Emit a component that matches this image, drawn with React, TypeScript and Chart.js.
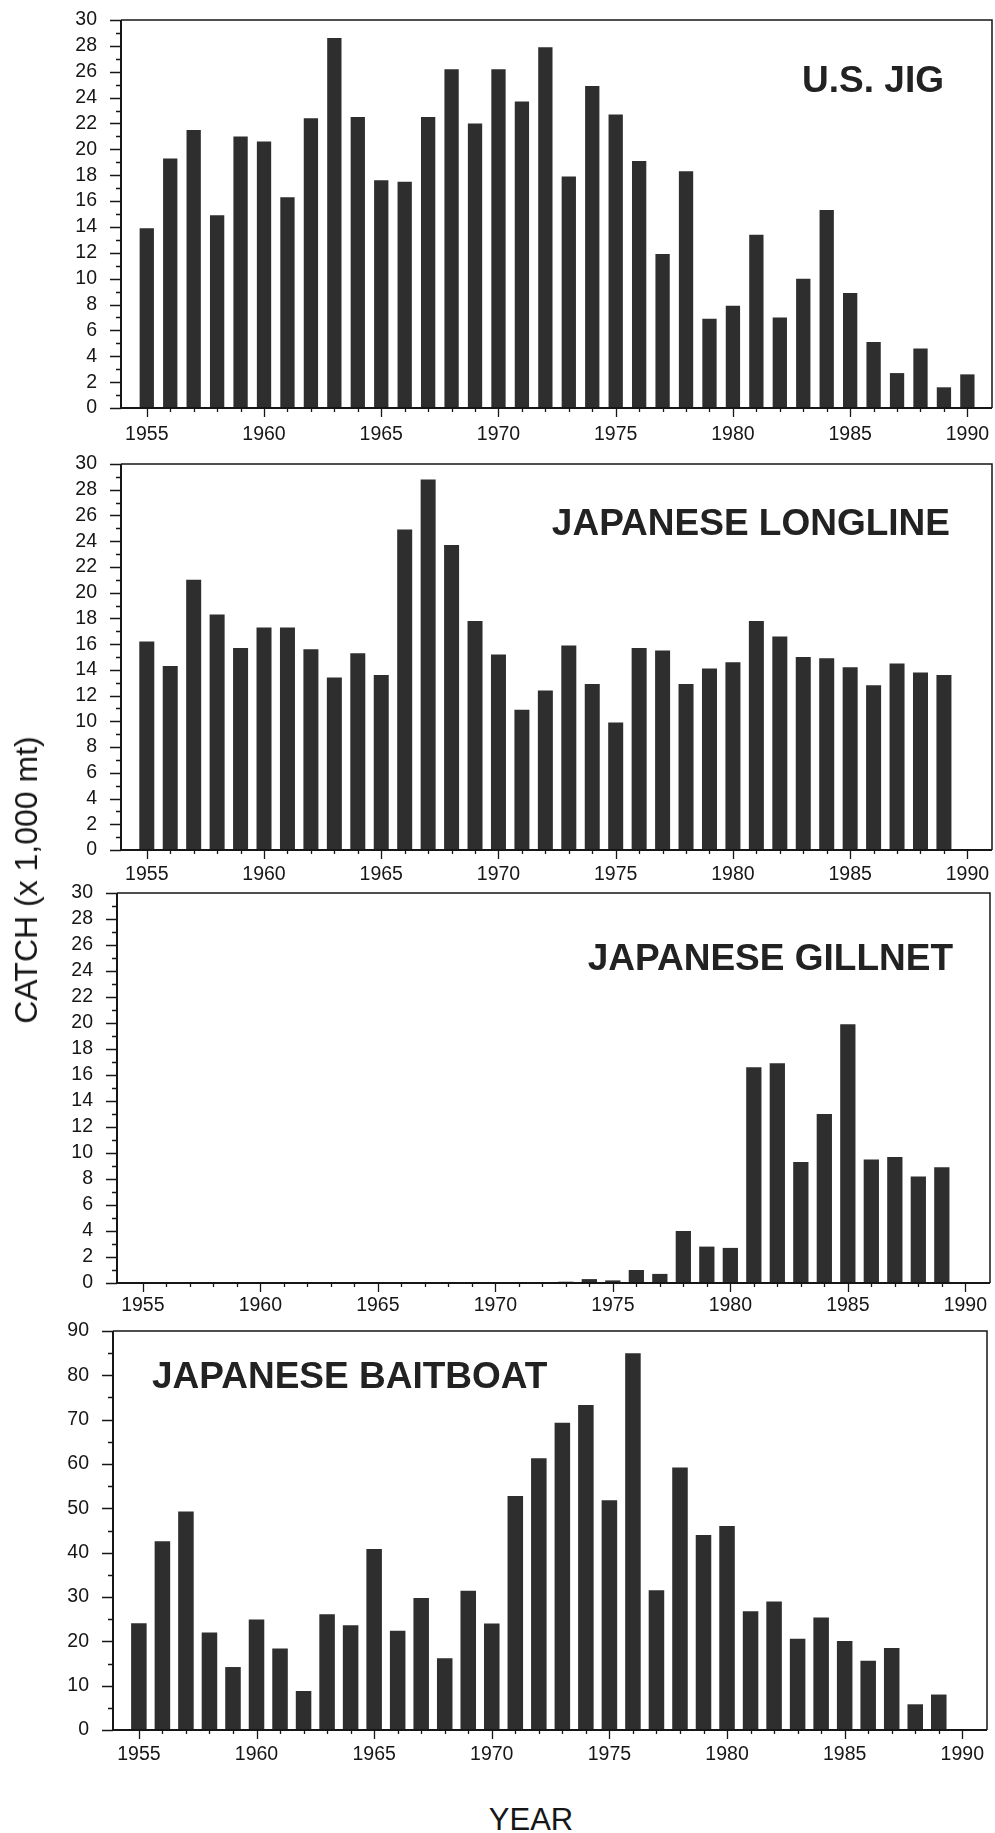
import React, { useEffect, useRef } from "react";
import { Chart, registerables } from "chart.js";

Chart.register(...registerables);

// Fishing years shown on every panel
const YEARS = [
  1955, 1956, 1957, 1958, 1959, 1960, 1961, 1962, 1963, 1964,
  1965, 1966, 1967, 1968, 1969, 1970, 1971, 1972, 1973, 1974,
  1975, 1976, 1977, 1978, 1979, 1980, 1981, 1982, 1983, 1984,
  1985, 1986, 1987, 1988, 1989, 1990,
];
const X_TICKS = [1955, 1960, 1965, 1970, 1975, 1980, 1985, 1990];
const Y_TICKS_30 = [0, 2, 4, 6, 8, 10, 12, 14, 16, 18, 20, 22, 24, 26, 28, 30];
const Y_TICKS_90 = [0, 10, 20, 30, 40, 50, 60, 70, 80, 90];

// Catch in thousands of metric tons, one value per year starting 1955
const US_JIG = [
  13.9, 19.3, 21.5, 14.9, 21.0, 20.6, 16.3, 22.4, 28.6, 22.5,
  17.6, 17.5, 22.5, 26.2, 22.0, 26.2, 23.7, 27.9, 17.9, 24.9,
  22.7, 19.1, 11.9, 18.3, 6.9, 7.9, 13.4, 7.0, 10.0, 15.3,
  8.9, 5.1, 2.7, 4.6, 1.6, 2.6,
];
const JP_LONGLINE = [
  16.2, 14.3, 21.0, 18.3, 15.7, 17.3, 17.3, 15.6, 13.4, 15.3,
  13.6, 24.9, 28.8, 23.7, 17.8, 15.2, 10.9, 12.4, 15.9, 12.9,
  9.9, 15.7, 15.5, 12.9, 14.1, 14.6, 17.8, 16.6, 15.0, 14.9,
  14.2, 12.8, 14.5, 13.8, 13.6,
];
const JP_GILLNET = [
  0, 0, 0, 0, 0, 0, 0, 0, 0, 0,
  0, 0, 0, 0, 0, 0, 0, 0, 0.1, 0.3,
  0.2, 1.0, 0.7, 4.0, 2.8, 2.7, 16.6, 16.9, 9.3, 13.0,
  19.9, 9.5, 9.7, 8.2, 8.9,
];
const JP_BAITBOAT = [
  24.1, 42.6, 49.3, 22.0, 14.2, 24.9, 18.4, 8.8, 26.1, 23.6,
  40.8, 22.4, 29.8, 16.2, 31.4, 24.0, 52.8, 61.3, 69.3, 73.3,
  51.8, 85.0, 31.5, 59.2, 44.0, 46.0, 26.8, 29.0, 20.6, 25.4,
  20.1, 15.6, 18.5, 5.8, 8.0,
];

const FONT = '"Liberation Sans", Arial, Helvetica, sans-serif';
const INK = "#161616";
const BAR = "#2e2e2e";
const PAGE_W = 995;
const PAGE_H = 1833;
const PAD_TOP = 20;
const X_AXIS_H = 46;

type Panel = {
  name: string;
  values: number[];
  yMax: number;
  yTicks: number[];
  minorStep: number;
  left: number;
  right: number;
  top: number;
  bottom: number;
  xPad: number;
  barFrac: number;
  align: "left" | "right";
  dx: number;
  dy: number;
};

const PANELS: Panel[] = [
  { name: "U.S. JIG", values: US_JIG, yMax: 30, yTicks: Y_TICKS_30, minorStep: 1,
    left: 121, right: 992, top: 20, bottom: 408, xPad: 15, barFrac: 0.61,
    align: "right", dx: -48, dy: 72 },
  { name: "JAPANESE LONGLINE", values: JP_LONGLINE, yMax: 30, yTicks: Y_TICKS_30, minorStep: 1,
    left: 121, right: 992, top: 464, bottom: 850, xPad: 13, barFrac: 0.64,
    align: "right", dx: -42, dy: 71 },
  { name: "JAPANESE GILLNET", values: JP_GILLNET, yMax: 30, yTicks: Y_TICKS_30, minorStep: 1,
    left: 117, right: 990, top: 893, bottom: 1283, xPad: 11, barFrac: 0.65,
    align: "right", dx: -37, dy: 77 },
  { name: "JAPANESE BAITBOAT", values: JP_BAITBOAT, yMax: 90, yTicks: Y_TICKS_90, minorStep: 5,
    left: 113, right: 987, top: 1331, bottom: 1730, xPad: 13, barFrac: 0.66,
    align: "left", dx: 39, dy: 57 },
];

// Tick marks, plot frame and the fishery name inside each panel
function makeDecor(p: Panel) {
  return {
    id: "panelDecor",
    afterDatasetsDraw(chart: any) {
      const { ctx, chartArea: a, scales } = chart;
      const xs = scales.x;
      const ys = scales.y;
      ctx.save();
      ctx.strokeStyle = INK;
      ctx.lineWidth = 1.3;
      ctx.beginPath();
      for (let v = 0; v <= p.yMax; v += p.minorStep) {
        const py = Math.round(ys.getPixelForValue(v)) + 0.5;
        const len = p.yTicks.includes(v) ? 11 : 5;
        ctx.moveTo(a.left - len, py);
        ctx.lineTo(a.left, py);
      }
      for (const yr of YEARS) {
        const px = Math.round(xs.getPixelForValue(yr)) + 0.5;
        const len = X_TICKS.includes(yr) ? 9 : 4;
        ctx.moveTo(px, a.bottom);
        ctx.lineTo(px, a.bottom + len);
      }
      ctx.stroke();

      ctx.lineWidth = 1.5;
      ctx.beginPath();
      ctx.moveTo(a.left, a.top);
      ctx.lineTo(a.right, a.top);
      ctx.lineTo(a.right, a.bottom);
      ctx.stroke();
      ctx.lineWidth = 2;
      ctx.beginPath();
      ctx.moveTo(a.left, a.top);
      ctx.lineTo(a.left, a.bottom);
      ctx.lineTo(a.right, a.bottom);
      ctx.stroke();

      ctx.fillStyle = "#222222";
      ctx.font = `bold 37px ${FONT}`;
      ctx.textAlign = p.align;
      ctx.textBaseline = "alphabetic";
      const tx = p.align === "right" ? a.right + p.dx : a.left + p.dx;
      ctx.fillText(p.name, tx, a.top + p.dy);
      ctx.restore();
    },
  };
}

function CatchPanel({ panel }: { panel: Panel }) {
  const ref = useRef<HTMLCanvasElement>(null);
  const height = panel.bottom - panel.top + PAD_TOP + X_AXIS_H;

  useEffect(() => {
    const canvas = ref.current;
    if (!canvas) return;
    const tickFont = { family: FONT, size: 19.5 };
    const chart = new Chart(canvas, {
      type: "bar",
      data: {
        datasets: [
          {
            data: panel.values.map((v, i) => ({ x: YEARS[i], y: v })),
            backgroundColor: BAR,
            borderWidth: 0,
            barPercentage: 1,
            categoryPercentage: panel.barFrac,
          },
        ],
      },
      options: {
        responsive: false,
        animation: false,
        devicePixelRatio: 1,
        layout: { padding: { left: 0, right: PAGE_W - panel.right, top: PAD_TOP, bottom: 0 } },
        plugins: { legend: { display: false }, tooltip: { enabled: false }, title: { display: false } },
        scales: {
          x: {
            type: "linear",
            offset: false,
            min: 1953.9,
            max: 1991.05,
            afterBuildTicks: (s: any) => {
              s.ticks = X_TICKS.map((v) => ({ value: v }));
            },
            afterFit: (s: any) => {
              s.height = X_AXIS_H;
              s.paddingLeft = 0;
              s.paddingRight = 0;
            },
            grid: { display: false, drawTicks: false },
            border: { display: false },
            ticks: {
              autoSkip: false,
              maxRotation: 0,
              padding: panel.xPad,
              color: INK,
              font: tickFont,
              callback: (v: any) => String(v),
            },
          },
          y: {
            type: "linear",
            min: 0,
            max: panel.yMax,
            afterBuildTicks: (s: any) => {
              s.ticks = panel.yTicks.map((v) => ({ value: v }));
            },
            afterFit: (s: any) => {
              s.width = panel.left;
              s.paddingTop = 0;
              s.paddingBottom = 0;
            },
            grid: { display: false, drawTicks: false },
            border: { display: false },
            ticks: {
              autoSkip: false,
              padding: 24,
              color: INK,
              font: tickFont,
              callback: (v: any) => String(v),
            },
          },
        },
      },
      plugins: [makeDecor(panel)],
    } as any);
    return () => chart.destroy();
  }, [panel]);

  return (
    <canvas
      ref={ref}
      width={PAGE_W}
      height={height}
      style={{ position: "absolute", left: 0, top: panel.top - PAD_TOP, display: "block" }}
    />
  );
}

export default function App() {
  return (
    <div
      style={{
        position: "absolute",
        left: 0,
        top: 0,
        width: PAGE_W,
        height: PAGE_H,
        overflow: "hidden",
        background: "#ffffff",
        fontFamily: FONT,
        color: INK,
      }}
    >
      {PANELS.map((p) => (
        <CatchPanel key={p.name} panel={p} />
      ))}
      <div
        style={{
          position: "absolute",
          left: 26,
          top: 880,
          transform: "translate(-50%, -50%) rotate(-90deg)",
          whiteSpace: "nowrap",
          fontSize: 32,
          lineHeight: 1,
        }}
      >
        CATCH (x 1,000 mt)
      </div>
      <div
        style={{
          position: "absolute",
          left: 531,
          top: 1804,
          transform: "translateX(-50%)",
          whiteSpace: "nowrap",
          fontSize: 31,
          lineHeight: 1,
        }}
      >
        YEAR
      </div>
    </div>
  );
}
